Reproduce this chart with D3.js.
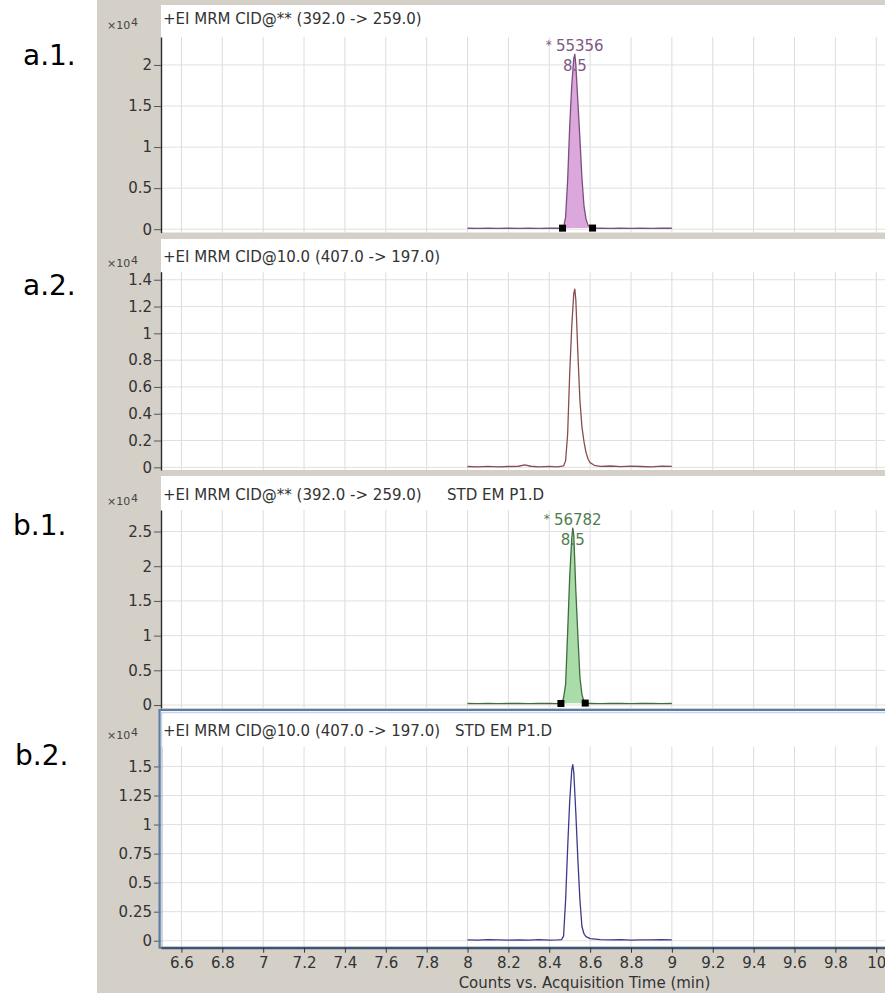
<!DOCTYPE html>
<html><head><meta charset="utf-8">
<script src="https://cdn.jsdelivr.net/npm/d3@7"></script>
<style>
body{margin:0;background:#fff;}
svg{display:block;}
text{font-family:"DejaVu Sans",sans-serif;}
</style></head><body>
<svg id="c" width="885" height="993"></svg>
<script>
// ---------------- data ----------------
const xTicks = [6.6,6.8,7,7.2,7.4,7.6,7.8,8,8.2,8.4,8.6,8.8,9,9.2,9.4,9.6,9.8,10];
const xTickLabels = ["6.6","6.8","7","7.2","7.4","7.6","7.8","8","8.2","8.4","8.6","8.8","9","9.2","9.4","9.6","9.8","10"];
const xDomain = [6.5, 10.05];
const xTitle = "Counts vs. Acquisition Time (min)";

const panelNames = ["a.1.","a.2.","b.1.","b.2."];
const panelTitles = ["+EI MRM CID@** (392.0 -> 259.0)","+EI MRM CID@10.0 (407.0 -> 197.0)","+EI MRM CID@** (392.0 -> 259.0)","+EI MRM CID@10.0 (407.0 -> 197.0)"];
const panelFiles = ["","","STD EM P1.D","STD EM P1.D"];
const yExponent = "4";

const yTicksA1 = [0,0.5,1,1.5,2];
const yTicksA2 = [0,0.2,0.4,0.6,0.8,1,1.2,1.4];
const yTicksB1 = [0,0.5,1,1.5,2,2.5];
const yTicksB2 = [0,0.25,0.5,0.75,1,1.25,1.5];
const yDomainA1 = [-0.04, 2.34];
const yDomainA2 = [-0.02, 1.46];
const yDomainB1 = [-0.043, 2.81];
const yDomainB2 = [-0.06, 1.67];

// counts (x10^4) vs acquisition time (min)
const traceA1 = [[8.00,0.012],[8.05,0.011],[8.10,0.012],[8.15,0.010],[8.20,0.012],[8.25,0.011],[8.30,0.012],[8.35,0.011],[8.40,0.012],[8.44,0.012],[8.465,0.013],[8.47,0.02],[8.48,0.15],[8.49,0.60],[8.50,1.25],[8.51,1.75],[8.52,2.08],[8.525,2.13],[8.53,2.00],[8.54,1.55],[8.55,1.10],[8.56,0.62],[8.57,0.28],[8.58,0.12],[8.59,0.05],[8.60,0.025],[8.612,0.014],[8.65,0.012],[8.70,0.011],[8.75,0.012],[8.80,0.011],[8.85,0.012],[8.90,0.011],[8.95,0.012],[9.00,0.012]];
const traceA2 = [[8.00,0.006],[8.05,0.004],[8.10,0.007],[8.15,0.003],[8.20,0.006],[8.25,0.008],[8.28,0.018],[8.31,0.008],[8.35,0.004],[8.40,0.007],[8.44,0.004],[8.47,0.010],[8.48,0.05],[8.49,0.25],[8.50,0.70],[8.51,1.05],[8.52,1.30],[8.525,1.33],[8.53,1.25],[8.54,0.85],[8.55,0.50],[8.56,0.30],[8.57,0.19],[8.58,0.11],[8.59,0.06],[8.60,0.035],[8.62,0.015],[8.65,0.007],[8.70,0.010],[8.75,0.005],[8.80,0.009],[8.85,0.006],[8.90,0.004],[8.95,0.009],[9.00,0.007]];
const traceB1 = [[8.00,0.022],[8.05,0.021],[8.10,0.022],[8.15,0.021],[8.20,0.022],[8.25,0.022],[8.30,0.021],[8.35,0.022],[8.40,0.022],[8.44,0.021],[8.457,0.022],[8.46,0.025],[8.47,0.10],[8.48,0.30],[8.49,1.05],[8.50,1.85],[8.51,2.40],[8.515,2.55],[8.52,2.45],[8.53,1.65],[8.54,1.00],[8.55,0.40],[8.56,0.15],[8.57,0.05],[8.576,0.028],[8.58,0.023],[8.60,0.022],[8.65,0.021],[8.70,0.022],[8.75,0.022],[8.80,0.021],[8.85,0.022],[8.90,0.022],[8.95,0.021],[9.00,0.022]];
const traceB2 = [[8.00,0.008],[8.05,0.006],[8.10,0.009],[8.15,0.007],[8.20,0.005],[8.25,0.008],[8.30,0.006],[8.35,0.009],[8.40,0.006],[8.44,0.008],[8.46,0.010],[8.47,0.04],[8.48,0.35],[8.49,0.80],[8.50,1.20],[8.51,1.47],[8.515,1.515],[8.52,1.45],[8.53,1.10],[8.54,0.70],[8.55,0.35],[8.56,0.12],[8.57,0.06],[8.58,0.035],[8.60,0.018],[8.65,0.010],[8.70,0.007],[8.75,0.009],[8.80,0.006],[8.85,0.008],[8.90,0.007],[8.95,0.009],[9.00,0.008]];

// integrated peaks: [start, end] and annotation
const integA1 = [8.465, 8.612];
const integB1 = [8.457, 8.576];
const peakAreas = ["55356", null, "56782", null];
const peakRTs = ["8.5", null, "8.5", null];

// ---------------- styles / layout ----------------
const traces = [traceA1, traceA2, traceB1, traceB2];
const yTicksAll = [yTicksA1, yTicksA2, yTicksB1, yTicksB2];
const yDomains = [yDomainA1, yDomainA2, yDomainB1, yDomainB2];
const integs = [integA1, null, integB1, null];
const lineColors = ["#7b4f7c", "#8a4d4f", "#3f6e3f", "#3b3b8c"];
const fillColors = ["#dca7dc", null, "#a9dca9", null];
const labelColors = ["#7d5a80", null, "#4f7d4f", null];

const layout = [
  {top:5,   titleY:18.5,  expY:25,    axisTop:37,    bottom:232.5, nameX:23, nameY:65,  fileX:null},
  {top:239, titleY:256.7, expY:263,   axisTop:271.7, bottom:470,   nameX:23, nameY:295, fileX:null},
  {top:476, titleY:495,   expY:501.7, axisTop:510,   bottom:708,   nameX:13, nameY:535, fileX:447},
  {top:710, titleY:730.7, expY:735,   axisTop:746.7, bottom:947.7, nameX:15, nameY:765, fileX:455}
];

const svg = d3.select("#c");
const W = 885, H = 993;
const plotLeft = 161;
const x = d3.scaleLinear().domain(xDomain).range([plotLeft, plotLeft + (xDomain[1]-xDomain[0])*204.35]);

// background
svg.append("rect").attr("x",0).attr("y",0).attr("width",W).attr("height",H).attr("fill","#ffffff");
svg.append("rect").attr("x",97).attr("y",0).attr("width",W-97).attr("height",H).attr("fill","#d4d0c8");

layout.forEach((L, i) => {
  const g = svg.append("g");
  const y = d3.scaleLinear().domain(yDomains[i]).range([L.bottom, L.axisTop]);

  // white panel
  g.append("rect").attr("x",plotLeft).attr("y",L.top).attr("width",W-plotLeft).attr("height",L.bottom-L.top).attr("fill","#ffffff");

  // grid
  g.append("g").selectAll("line.v").data(xTicks).join("line")
    .attr("x1",d=>x(d)).attr("x2",d=>x(d)).attr("y1",L.axisTop).attr("y2",L.bottom)
    .attr("stroke","#dcdcdc").attr("stroke-width",1);
  g.append("g").selectAll("line.h").data(yTicksAll[i]).join("line")
    .attr("x1",plotLeft).attr("x2",W).attr("y1",d=>y(d)).attr("y2",d=>y(d))
    .attr("stroke","#e0e0e0").attr("stroke-width",1);

  // filled integrated area
  const tr = traces[i];
  if (integs[i]) {
    const [s,e] = integs[i];
    const seg = tr.filter(d => d[0] >= s && d[0] <= e);
    const v0 = seg[0][1], v1 = seg[seg.length-1][1];
    const base = t => v0 + (v1 - v0) * (t - s) / (e - s);
    const area = d3.area().x(d=>x(d[0])).y0(d=>y(base(d[0]))).y1(d=>y(d[1]));
    g.append("path").datum(seg).attr("d",area).attr("fill",fillColors[i]).attr("stroke","none");
  }

  // trace
  const line = d3.line().x(d=>x(d[0])).y(d=>y(d[1]));
  g.append("path").datum(tr).attr("d",line).attr("fill","none")
    .attr("stroke",lineColors[i]).attr("stroke-width",1.3).attr("stroke-linejoin","round");

  // integration markers
  if (integs[i]) {
    const [s,e] = integs[i];
    const pts = [tr.find(d=>d[0]===s), tr.find(d=>d[0]===e)];
    g.append("g").selectAll("rect").data(pts).join("rect")
      .attr("x",d=>x(d[0])-3.5).attr("y",d=>y(d[1])-3.5).attr("width",7).attr("height",7).attr("fill","#000");
  }

  // peak annotation
  if (peakAreas[i]) {
    const apex = tr.reduce((a,b)=> b[1]>a[1]?b:a);
    const ax = x(apex[0]), ay = y(apex[1]);
    g.append("text").attr("x",ax-26).attr("y",ay-9).attr("text-anchor","middle")
      .attr("dominant-baseline","central").attr("font-size",12).attr("fill",labelColors[i]).text("*");
    g.append("text").attr("x",ax+5).attr("y",ay-8).attr("text-anchor","middle")
      .attr("dominant-baseline","central").attr("font-size",15).attr("fill",labelColors[i]).text(peakAreas[i]);
    g.append("text").attr("x",ax).attr("y",ay+12).attr("text-anchor","middle")
      .attr("dominant-baseline","central").attr("font-size",15).attr("fill",labelColors[i]).text(peakRTs[i]);
  }

  // y axis
  const yAxis = d3.axisLeft(y).tickValues(yTicksAll[i]).tickFormat(d3.format("~g")).tickSize(7).tickSizeOuter(0).tickPadding(2);
  const ag = g.append("g").attr("transform",`translate(${plotLeft},0)`).call(yAxis);
  ag.select(".domain").attr("stroke","#2a2a2a").attr("stroke-width",1.4);
  ag.selectAll(".tick line").attr("stroke","#555");
  ag.selectAll(".tick text").attr("font-family","DejaVu Sans").attr("font-size",15).attr("fill","#333");

  // exponent label
  g.append("text").attr("x",107).attr("y",L.expY).attr("dominant-baseline","central")
    .attr("font-family","Liberation Sans").attr("font-size",11).attr("fill","#444").text("×10");
  g.append("text").attr("x",131).attr("y",L.expY-3).attr("dominant-baseline","central")
    .attr("font-family","Liberation Sans").attr("font-size",11).attr("fill","#444").text(yExponent);

  // title
  g.append("text").attr("x",163).attr("y",L.titleY).attr("dominant-baseline","central")
    .attr("font-size",15).attr("fill","#333").text(panelTitles[i]);
  if (L.fileX) {
    g.append("text").attr("x",L.fileX).attr("y",L.titleY).attr("dominant-baseline","central")
      .attr("font-size",15).attr("fill","#333").text(panelFiles[i]);
  }

  // panel name on the left
  svg.append("text").attr("x",L.nameX).attr("y",L.nameY).attr("font-family","Lato")
    .attr("font-size",28).attr("fill","#000").text(panelNames[i]);
});

// selected panel frame (b.2)
const L4 = layout[3];
svg.append("rect").attr("x",161.5).attr("y",L4.top+2.5).attr("width",W).attr("height",L4.bottom-L4.top-3)
  .attr("fill","none").attr("stroke","#c5d5e8").attr("stroke-width",1.5);
svg.append("rect").attr("x",159.5).attr("y",L4.top).attr("width",W).attr("height",L4.bottom-L4.top)
  .attr("fill","none").attr("stroke","#5b7ca3").attr("stroke-width",2);

// x axis
const xAxis = d3.axisBottom(x).tickValues(xTicks).tickFormat((d,i)=>xTickLabels[i]).tickSize(5).tickSizeOuter(0).tickPadding(5);
const xg = svg.append("g").attr("transform",`translate(0,${L4.bottom})`).call(xAxis);
xg.select(".domain").attr("stroke","#3d4f66").attr("stroke-width",2);
xg.selectAll(".tick line").attr("stroke","#333");
xg.selectAll(".tick text").attr("font-family","DejaVu Sans").attr("font-size",15).attr("fill","#333");

svg.append("text").attr("x",584.5).attr("y",983).attr("text-anchor","middle").attr("dominant-baseline","central")
  .attr("font-size",15).attr("fill","#333").text(xTitle);
</script>
</body></html>
